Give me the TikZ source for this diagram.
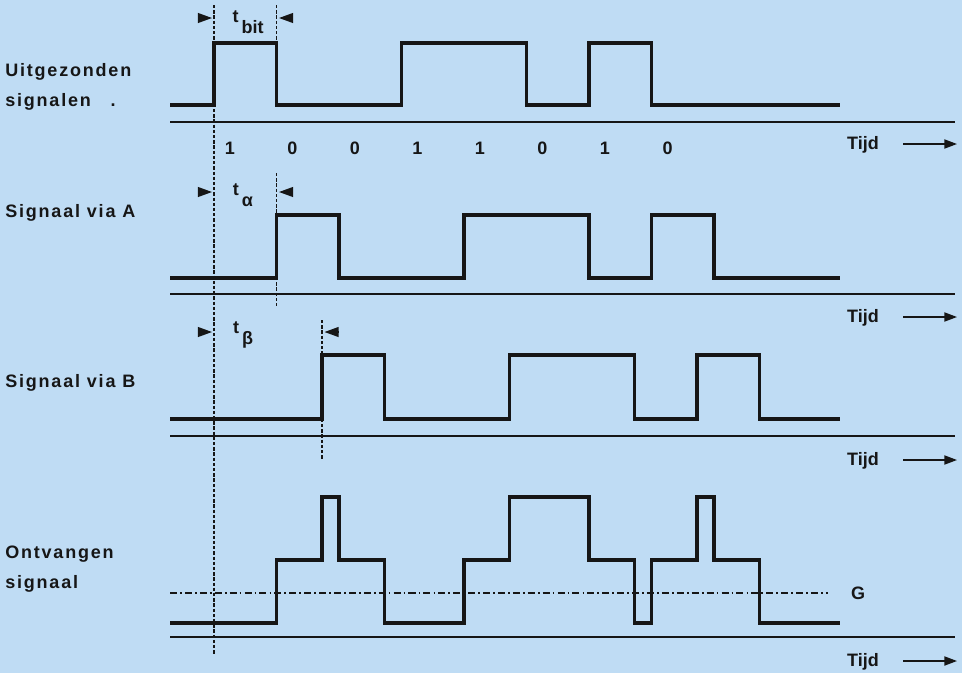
\documentclass[tikz,border=0pt]{standalone}
\usepackage{fontspec}
\setmainfont{Liberation Sans}
\newfontfamily\lblfont[LetterSpace=10]{Liberation Sans}
\usetikzlibrary{arrows.meta}
\definecolor{cbg}{HTML}{BFDCF4}
\definecolor{cink}{HTML}{161616}
\tikzset{
  every picture/.style={x=0.025cm, y=-0.025cm, font=\fontsize{12.8}{15}\selectfont\bfseries},
  sig/.style={draw=cink, line width=2.8pt, line join=miter},
  axis/.style={draw=cink, line width=1.3pt},
  guide/.style={draw=cink, line width=1.3pt, dash pattern=on 2.4pt off 1.3pt},
  gline/.style={draw=cink, line width=1.1pt, dash pattern=on 5pt off 2.2pt on 1.2pt off 2.2pt},
  dimarrow/.style={draw=cink, line width=1pt, -{Triangle[length=10pt, width=7pt]}},
  timearrow/.style={draw=cink, line width=1pt, -{Triangle[length=9pt, width=6.5pt]}},
  lbl/.style={font=\lblfont\fontsize{12.8}{21.5}\selectfont\bfseries, anchor=west, align=left, inner sep=0pt, text=cink},
  txt/.style={text=cink, inner sep=0pt},
}

\begin{document}
\begin{tikzpicture}
  \fill[cbg] (0,0) rectangle (962,673);
  \useasboundingbox (0,0) rectangle (962,673);
  % row labels
  \node[lbl] (lblTx) at (5,87) {Uitgezonden\\signalen\hspace{14pt}.};
  \node[lbl] (lblA) at (5,213) {Signaal via A};
  \node[lbl] (lblB) at (5,383) {Signaal via B};
  \node[lbl] (lblRx) at (5,569) {Ontvangen\\signaal};
  % time axes
  \foreach \ya/\yt [count=\r] in {122/145, 294/318, 436/461, 637/662} {
    \draw[axis] (170,\ya) -- (955,\ya);
    \node[txt] (tijd\r) at (863,\yt) {Tijd};
    \draw[timearrow] (903,\yt-1) -- (957,\yt-1);
  }
  % reference lines
  \draw[guide] (214,5) -- (214,655);
  \draw[guide] (276.5,5) -- (276.5,43);
  \draw[guide] (276.5,173) -- (276.5,308);
  \draw[guide] (322,320) -- (322,460);
  % delays
  \draw[dimarrow] (198,18) -- (212,18);
  \draw[dimarrow] (292,18) -- (279,18);
  \node[txt] (tBit) at (248,22) {t\,\raisebox{-1.1ex}{bit}};
  \draw[dimarrow] (198,192) -- (212,192);
  \draw[dimarrow] (292,192) -- (279,192);
  \node[txt] (tAlpha) at (243,195) {t\,\raisebox{-1.1ex}{α}};
  \draw[dimarrow] (198,332) -- (212,332);
  \draw[dimarrow] (338,332) -- (324.5,332);
  \node[txt] (tBeta) at (243,335) {t\,\raisebox{-1.1ex}{β}};
  % bits
  \foreach \b [count=\i from 0] in {1,0,0,1,1,0,1,0}
    \node[txt] (bit\i) at ({230+62.5*\i},148) {\b};
  % sent signal
  \draw[sig] (170,105) -- (214,105) -- (214,43) -- (276.5,43) -- (276.5,105) -- (401.5,105) -- (401.5,43)
    -- (526.5,43) -- (526.5,105) -- (589,105) -- (589,43) -- (651.5,43) -- (651.5,105) -- (840,105);
  % via A
  \draw[sig] (170,278) -- (276.5,278) -- (276.5,215) -- (339,215) -- (339,278) -- (464,278) -- (464,215)
    -- (589,215) -- (589,278) -- (651.5,278) -- (651.5,215) -- (714,215) -- (714,278) -- (840,278);
  % via B
  \draw[sig] (170,419) -- (322,419) -- (322,355) -- (384.5,355) -- (384.5,419) -- (509.5,419) -- (509.5,355)
    -- (634.5,355) -- (634.5,419) -- (697,419) -- (697,355) -- (759.5,355) -- (759.5,419) -- (840,419);
  % received
  \draw[gline] (170,593) -- (828,593);
  \node[txt] (levelG) at (858,593) {G};
  \draw[sig] (170,623) -- (276.5,623) -- (276.5,560) -- (322,560) -- (322,497) -- (339,497) -- (339,560)
    -- (384.5,560) -- (384.5,623) -- (464,623) -- (464,560) -- (509.5,560) -- (509.5,497) -- (589,497)
    -- (589,560) -- (634.5,560) -- (634.5,623) -- (651.5,623) -- (651.5,560) -- (697,560) -- (697,497)
    -- (714,497) -- (714,560) -- (759.5,560) -- (759.5,623) -- (840,623);
\end{tikzpicture}
\end{document}
